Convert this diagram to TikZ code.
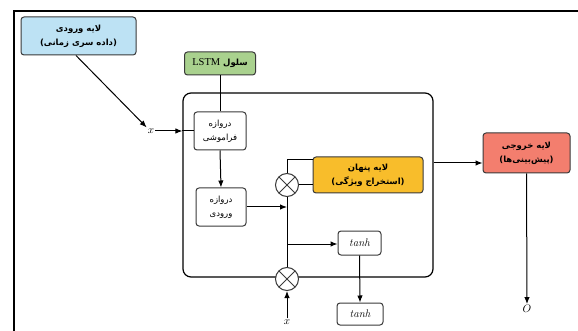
\documentclass[tikz,border=0pt]{standalone}
\usepackage{fontspec}
\usetikzlibrary{arrows.meta,calc}
\TeXXeTstate=1
\newfontfamily\fa[Script=Arabic]{DejaVu Sans}
\newfontfamily\latserif{Liberation Serif}
\definecolor{inblue}{HTML}{BDE2F4}
\definecolor{lstmgreen}{HTML}{A9D18E}
\definecolor{hidyellow}{HTML}{F8BD2B}
\definecolor{outred}{HTML}{F37E6E}
\definecolor{edge}{HTML}{3A3A3A}
\tikzset{
  box/.style={draw=edge, line width=1pt, rounded corners=3pt, align=center, inner sep=1pt,
    font=\fa\fontsize{8.5}{14}\selectfont},
  boldbox/.style={box, font=\fa\bfseries\fontsize{8.5}{14}\selectfont},
  arr/.style={line width=1pt, -{Latex[length=7pt,width=5.5pt]}},
  ln/.style={line width=1pt},
  mult/.style={draw=edge, line width=1pt, circle, fill=white, minimum size=23pt, inner sep=0pt,
    path picture={\draw[edge, line width=1pt] ($(path picture bounding box.north west)+(3.4,3.4)$)
      -- ($(path picture bounding box.south east)+(-3.4,-3.4)$);
      \draw[edge, line width=1pt] ($(path picture bounding box.north east)+(-3.4,3.4)$)
      -- ($(path picture bounding box.south west)+(3.4,-3.4)$);}},
  lbl/.style={inner sep=1pt, font=\fontsize{10.5}{11}\selectfont}
}
\begin{document}
\begin{tikzpicture}[x=1pt,y=-1pt]
\useasboundingbox (0,0) rectangle (578,331);
\fill[white] (0,0) rectangle (578,331);
% frame
\draw[line width=2pt] (14,331) -- (14,11) -- (578,11);
% big cell box
\node[draw=black, line width=1.2pt, rounded corners=8pt, minimum width=250pt, minimum height=184pt] (cell) at (308,185) {};
% nodes
\node[boldbox, fill=inblue, minimum width=115pt, minimum height=38pt] (inp) at (78.5,36) {\beginR لایه ورودی\endR\\\beginR (داده سری زمانی)\endR};
\node[boldbox, fill=lstmgreen, minimum width=71pt, minimum height=23pt] (lstm) at (220,63.5) {\beginR سلول \beginL{\mdseries\latserif\fontsize{10.5}{11}\selectfont LSTM}\endL\endR};
\node[box, fill=white, minimum width=52pt, minimum height=38pt] (forget) at (220,131) {\beginR دروازه\endR\\\beginR فراموشی\endR};
\node[box, fill=white, minimum width=50pt, minimum height=38pt] (ingate) at (221,207) {\beginR دروازه\endR\\\beginR ورودی\endR};
\node[boldbox, fill=hidyellow, minimum width=110pt, minimum height=36pt] (hidden) at (368,175) {\beginR لایه پنهان\endR\\\beginR (استخراج ویژگی)\endR};
\node[boldbox, fill=outred, minimum width=87pt, minimum height=40pt] (out) at (526.5,153) {\beginR لایه خروجی\endR\\\beginR (پیش‌بینی‌ها)\endR};
\node[box, fill=white, minimum width=43pt, minimum height=24pt, font=\fontsize{11}{12}\selectfont] (tanhA) at (359.5,243) {$\mathit{tanh}$};
\node[box, fill=white, minimum width=46pt, minimum height=22pt, font=\fontsize{11}{12}\selectfont] (tanhB) at (360,314) {$\mathit{tanh}$};
\node[mult] (m1) at (287,185) {};
\node[mult] (m2) at (287,279) {};
\node[lbl] (xin) at (151,131) {$x$};
\node[lbl] (xb) at (287,322) {$x$};
\node[lbl] (oo) at (527,309) {$O$};
% connectors
\draw[arr] (inp.south -| 76,0) -- (xin.north west);
\coordinate (xe) at (cell.west |- xin);
\draw[arr] (xin.east) -- (xe);
\draw[ln] (xe) -- (forget.west |- xin);
\draw[ln] (lstm.south) -- (forget.north);
\draw[arr] (forget.south) -- (ingate.north);
\draw[arr] (ingate.east |- 0,207) -- (287,207);
\draw[ln] (m1.south) -- (m2.north);
\draw[arr] (287,244) -- (tanhA.west |- 0,244);
\draw[ln] (m1.north) |- (hidden.west |- 0,160);
\draw[ln] (m1.east) -- (hidden.west |- m1);
\draw[arr] (xb.north) -- (m2.south);
\draw[arr] (tanhA.south) -- (tanhB.north);
\coordinate (oa) at (cell.east |- 0,163);
\draw[arr] (oa) -- (oa -| out.west);
\draw[arr] (out.south) -- (oo.north);
\end{tikzpicture}
\end{document}
